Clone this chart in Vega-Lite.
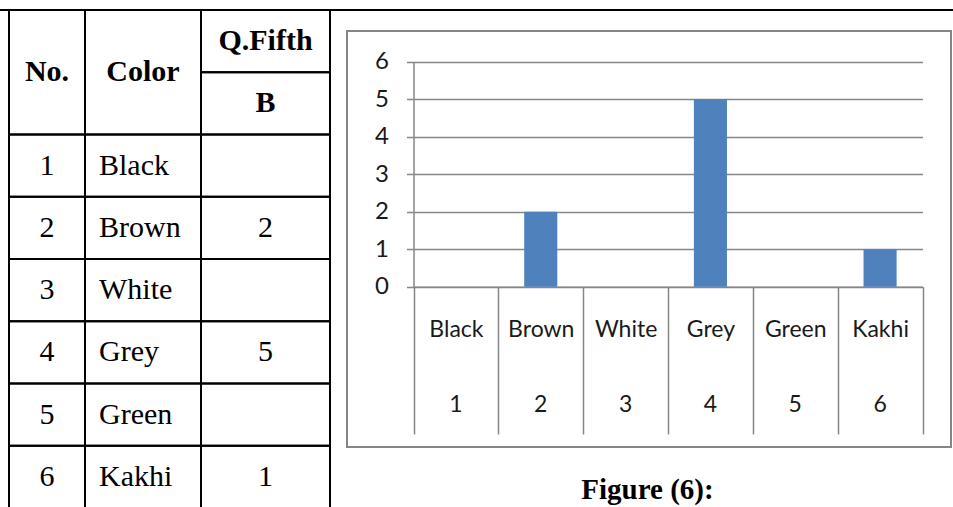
{
  "$schema": "https://vega.github.io/schema/vega-lite/v6.json",
  "width": 953,
  "height": 507,
  "padding": 0,
  "autosize": "none",
  "background": "white",
  "config": {"view": {"stroke": null}},
  "datasets": {
    "survey": [
      {"no": 1, "color": "Black", "b": null},
      {"no": 2, "color": "Brown", "b": 2},
      {"no": 3, "color": "White", "b": null},
      {"no": 4, "color": "Grey", "b": 5},
      {"no": 5, "color": "Green", "b": null},
      {"no": 6, "color": "Kakhi", "b": 1}
    ]
  },
  "data": {"name": "survey"},
  "title": {
    "text": "Figure (6):",
    "orient": "bottom",
    "anchor": "middle",
    "frame": "group",
    "offset": -10,
    "dx": 171,
    "baseline": "alphabetic",
    "font": "Liberation Serif",
    "fontSize": 29,
    "fontWeight": "bold",
    "color": "#000000"
  },
  "layer": [
    {
      "data": {"values": [{}]},
      "mark": {"type": "rect", "fill": "transparent", "stroke": "#868686", "strokeWidth": 2},
      "encoding": {
        "x": {"datum": 0, "type": "quantitative", "scale": {"domain": [0, 1], "range": [347, 951], "nice": false, "zero": false}, "axis": null},
        "x2": {"datum": 1},
        "y": {"datum": 0, "type": "quantitative", "scale": {"domain": [0, 1], "range": [31, 447], "nice": false, "zero": false}, "axis": null},
        "y2": {"datum": 1}
      }
    },
    {
      "layer": [
        {
          "mark": {"type": "bar", "color": "#4F81BD", "width": {"band": 0.39}},
          "encoding": {
            "x": {
              "field": "color",
              "type": "nominal",
              "scale": {"type": "band", "domain": ["Black", "Brown", "White", "Grey", "Green", "Kakhi"], "range": [413.5, 922.5], "paddingInner": 0, "paddingOuter": 0},
              "axis": {
                "orient": "bottom", "offset": -220.3, "title": null,
                "domain": true, "domainColor": "#868686", "domainWidth": 1.5,
                "ticks": true, "tickBand": "extent", "tickSize": 147.3, "tickColor": "#868686", "tickWidth": 1.5,
                "grid": false,
                "labelFont": "Lato", "labelFontSize": 23, "labelColor": "#1a1a1a",
                "labelPadding": -105, "labelBaseline": "middle", "labelAngle": 0
              }
            },
            "y": {
              "field": "b",
              "type": "quantitative",
              "scale": {"domain": [0, 6], "range": [286.7, 61.7], "nice": false, "zero": true},
              "axis": {
                "orient": "left", "offset": -413.5, "title": null,
                "values": [0, 1, 2, 3, 4, 5, 6],
                "domain": true, "domainColor": "#868686", "domainWidth": 1.5,
                "ticks": true, "tickSize": 7, "tickColor": "#868686", "tickWidth": 1.5,
                "grid": true, "gridColor": "#868686", "gridWidth": 1.5,
                "labelFont": "Lato", "labelFontSize": 24, "labelColor": "#1a1a1a",
                "labelPadding": 18, "labelAlign": "right", "labelBaseline": "middle"
              }
            }
          }
        },
        {
          "mark": {"type": "bar", "width": {"band": 0.39}, "opacity": 0},
          "encoding": {
            "x": {
              "field": "no",
              "type": "nominal",
              "scale": {"type": "band", "domain": [1, 2, 3, 4, 5, 6], "range": [413.5, 922.5], "paddingInner": 0, "paddingOuter": 0},
              "axis": {
                "orient": "bottom", "offset": -220.3, "title": null,
                "domain": false, "ticks": false, "tickSize": 0, "grid": false,
                "labelFont": "Lato", "labelFontSize": 23, "labelColor": "#1a1a1a",
                "labelPadding": 117.3, "labelBaseline": "middle", "labelAngle": 0
              }
            },
            "y": {
              "field": "b",
              "type": "quantitative",
              "scale": {"domain": [0, 6], "range": [286.7, 61.7], "nice": false, "zero": true},
              "axis": {
                "orient": "left", "offset": -413.5, "title": null,
                "values": [0, 1, 2, 3, 4, 5, 6],
                "domain": true, "domainColor": "#868686", "domainWidth": 1.5,
                "ticks": true, "tickSize": 7, "tickColor": "#868686", "tickWidth": 1.5,
                "grid": true, "gridColor": "#868686", "gridWidth": 1.5,
                "labelFont": "Lato", "labelFontSize": 24, "labelColor": "#1a1a1a",
                "labelPadding": 18, "labelAlign": "right", "labelBaseline": "middle"
              }
            }
          }
        }
      ],
      "resolve": {"scale": {"x": "independent"}, "axis": {"x": "independent"}}
    },
    {
      "layer": [
        {
          "layer": [
            {
              "mark": {"type": "rect", "fill": "transparent", "stroke": "#000000", "strokeWidth": 2},
              "encoding": {
                "x": {"datum": "No.", "type": "nominal", "scale": {"type": "band", "domain": ["No."], "range": [9, 85], "paddingInner": 0, "paddingOuter": 0}, "axis": null},
                "y": {"field": "no", "type": "nominal", "scale": {"type": "band", "domain": ["Q.Fifth", "B", 1, 2, 3, 4, 5, 6], "range": [10, 508], "paddingInner": 0, "paddingOuter": 0}, "axis": null}
              }
            },
            {
              "mark": {"type": "text", "font": "Liberation Serif", "fontSize": 30, "color": "#000000", "align": "center", "baseline": "middle"},
              "encoding": {
                "x": {"datum": "No.", "type": "nominal", "bandPosition": 0.5, "scale": {"type": "band", "domain": ["No."], "range": [9, 85], "paddingInner": 0, "paddingOuter": 0}, "axis": null},
                "y": {"field": "no", "type": "nominal", "bandPosition": 0.5, "scale": {"type": "band", "domain": ["Q.Fifth", "B", 1, 2, 3, 4, 5, 6], "range": [10, 508], "paddingInner": 0, "paddingOuter": 0}, "axis": null},
                "text": {"field": "no"}
              }
            },
            {
              "data": {"values": [{"label": "No."}]},
              "mark": {"type": "rect", "fill": "transparent", "stroke": "#000000", "strokeWidth": 2},
              "encoding": {
                "x": {"datum": "No.", "type": "nominal", "scale": {"type": "band", "domain": ["No."], "range": [9, 85], "paddingInner": 0, "paddingOuter": 0}, "axis": null},
                "y": {"datum": "Q.Fifth", "type": "nominal", "bandPosition": 0, "scale": {"type": "band", "domain": ["Q.Fifth", "B", 1, 2, 3, 4, 5, 6], "range": [10, 508], "paddingInner": 0, "paddingOuter": 0}, "axis": null},
                "y2": {"datum": 1, "bandPosition": 0}
              }
            },
            {
              "data": {"values": [{"label": "No."}]},
              "mark": {"type": "text", "font": "Liberation Serif", "fontSize": 30, "fontWeight": "bold", "color": "#000000", "align": "center", "baseline": "middle"},
              "encoding": {
                "x": {"datum": "No.", "type": "nominal", "bandPosition": 0.5, "scale": {"type": "band", "domain": ["No."], "range": [9, 85], "paddingInner": 0, "paddingOuter": 0}, "axis": null},
                "y": {"datum": "B", "type": "nominal", "bandPosition": 0, "scale": {"type": "band", "domain": ["Q.Fifth", "B", 1, 2, 3, 4, 5, 6], "range": [10, 508], "paddingInner": 0, "paddingOuter": 0}, "axis": null},
                "text": {"field": "label"}
              }
            }
          ]
        },
        {
          "layer": [
            {
              "mark": {"type": "rect", "fill": "transparent", "stroke": "#000000", "strokeWidth": 2},
              "encoding": {
                "x": {"datum": "Color", "type": "nominal", "scale": {"type": "band", "domain": ["Color"], "range": [85, 201], "paddingInner": 0, "paddingOuter": 0}, "axis": null},
                "y": {"field": "no", "type": "nominal", "scale": {"type": "band", "domain": ["Q.Fifth", "B", 1, 2, 3, 4, 5, 6], "range": [10, 508], "paddingInner": 0, "paddingOuter": 0}, "axis": null}
              }
            },
            {
              "mark": {"type": "text", "font": "Liberation Serif", "fontSize": 30, "color": "#000000", "align": "left", "baseline": "middle", "dx": 14},
              "encoding": {
                "x": {"datum": "Color", "type": "nominal", "bandPosition": 0, "scale": {"type": "band", "domain": ["Color"], "range": [85, 201], "paddingInner": 0, "paddingOuter": 0}, "axis": null},
                "y": {"field": "no", "type": "nominal", "bandPosition": 0.5, "scale": {"type": "band", "domain": ["Q.Fifth", "B", 1, 2, 3, 4, 5, 6], "range": [10, 508], "paddingInner": 0, "paddingOuter": 0}, "axis": null},
                "text": {"field": "color"}
              }
            },
            {
              "data": {"values": [{"label": "Color"}]},
              "mark": {"type": "rect", "fill": "transparent", "stroke": "#000000", "strokeWidth": 2},
              "encoding": {
                "x": {"datum": "Color", "type": "nominal", "scale": {"type": "band", "domain": ["Color"], "range": [85, 201], "paddingInner": 0, "paddingOuter": 0}, "axis": null},
                "y": {"datum": "Q.Fifth", "type": "nominal", "bandPosition": 0, "scale": {"type": "band", "domain": ["Q.Fifth", "B", 1, 2, 3, 4, 5, 6], "range": [10, 508], "paddingInner": 0, "paddingOuter": 0}, "axis": null},
                "y2": {"datum": 1, "bandPosition": 0}
              }
            },
            {
              "data": {"values": [{"label": "Color"}]},
              "mark": {"type": "text", "font": "Liberation Serif", "fontSize": 30, "fontWeight": "bold", "color": "#000000", "align": "center", "baseline": "middle"},
              "encoding": {
                "x": {"datum": "Color", "type": "nominal", "bandPosition": 0.5, "scale": {"type": "band", "domain": ["Color"], "range": [85, 201], "paddingInner": 0, "paddingOuter": 0}, "axis": null},
                "y": {"datum": "B", "type": "nominal", "bandPosition": 0, "scale": {"type": "band", "domain": ["Q.Fifth", "B", 1, 2, 3, 4, 5, 6], "range": [10, 508], "paddingInner": 0, "paddingOuter": 0}, "axis": null},
                "text": {"field": "label"}
              }
            }
          ]
        },
        {
          "layer": [
            {
              "mark": {"type": "rect", "fill": "transparent", "stroke": "#000000", "strokeWidth": 2},
              "encoding": {
                "x": {"datum": "B", "type": "nominal", "scale": {"type": "band", "domain": ["B"], "range": [201, 330], "paddingInner": 0, "paddingOuter": 0}, "axis": null},
                "y": {"field": "no", "type": "nominal", "scale": {"type": "band", "domain": ["Q.Fifth", "B", 1, 2, 3, 4, 5, 6], "range": [10, 508], "paddingInner": 0, "paddingOuter": 0}, "axis": null}
              }
            },
            {
              "transform": [{"filter": "isValid(datum.b)"}],
              "mark": {"type": "text", "font": "Liberation Serif", "fontSize": 30, "color": "#000000", "align": "center", "baseline": "middle"},
              "encoding": {
                "x": {"datum": "B", "type": "nominal", "bandPosition": 0.5, "scale": {"type": "band", "domain": ["B"], "range": [201, 330], "paddingInner": 0, "paddingOuter": 0}, "axis": null},
                "y": {"field": "no", "type": "nominal", "bandPosition": 0.5, "scale": {"type": "band", "domain": ["Q.Fifth", "B", 1, 2, 3, 4, 5, 6], "range": [10, 508], "paddingInner": 0, "paddingOuter": 0}, "axis": null},
                "text": {"field": "b"}
              }
            },
            {
              "data": {"values": [{"key": "Q.Fifth"}, {"key": "B"}]},
              "mark": {"type": "rect", "fill": "transparent", "stroke": "#000000", "strokeWidth": 2},
              "encoding": {
                "x": {"datum": "B", "type": "nominal", "scale": {"type": "band", "domain": ["B"], "range": [201, 330], "paddingInner": 0, "paddingOuter": 0}, "axis": null},
                "y": {"field": "key", "type": "nominal", "scale": {"type": "band", "domain": ["Q.Fifth", "B", 1, 2, 3, 4, 5, 6], "range": [10, 508], "paddingInner": 0, "paddingOuter": 0}, "axis": null}
              }
            },
            {
              "data": {"values": [{"key": "Q.Fifth"}, {"key": "B"}]},
              "mark": {"type": "text", "font": "Liberation Serif", "fontSize": 30, "fontWeight": "bold", "color": "#000000", "align": "center", "baseline": "middle"},
              "encoding": {
                "x": {"datum": "B", "type": "nominal", "bandPosition": 0.5, "scale": {"type": "band", "domain": ["B"], "range": [201, 330], "paddingInner": 0, "paddingOuter": 0}, "axis": null},
                "y": {"field": "key", "type": "nominal", "bandPosition": 0.5, "scale": {"type": "band", "domain": ["Q.Fifth", "B", 1, 2, 3, 4, 5, 6], "range": [10, 508], "paddingInner": 0, "paddingOuter": 0}, "axis": null},
                "text": {"field": "key"}
              }
            }
          ]
        },
        {
          "data": {"values": [{}]},
          "mark": {"type": "rule", "stroke": "#000000", "strokeWidth": 2},
          "encoding": {
            "y": {"datum": "Q.Fifth", "type": "nominal", "bandPosition": 0, "scale": {"type": "band", "domain": ["Q.Fifth", "B", 1, 2, 3, 4, 5, 6], "range": [10, 508], "paddingInner": 0, "paddingOuter": 0}, "axis": null}
          }
        }
      ],
      "resolve": {"scale": {"x": "independent"}, "axis": {"x": "independent"}}
    }
  ],
  "resolve": {
    "scale": {"x": "independent", "y": "independent"},
    "axis": {"x": "independent", "y": "independent"}
  }
}
